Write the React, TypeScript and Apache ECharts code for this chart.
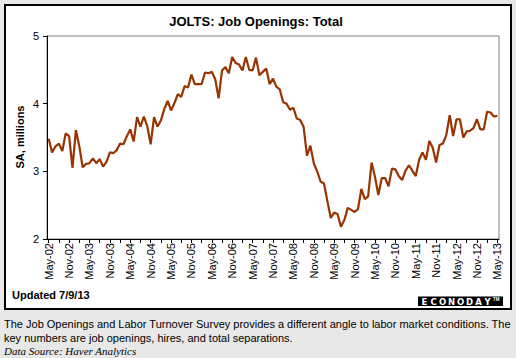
import React, { useEffect, useRef } from "react";
import * as echarts from "echarts";

const monthNames = ["Jan", "Feb", "Mar", "Apr", "May", "Jun", "Jul", "Aug", "Sep", "Oct", "Nov", "Dec"];
const startYear = 2002;
const startMonth = 4; // May
const monthCount = 133; // May-02 .. May-13

const categories: string[] = [];
for (let i = 0; i < monthCount; i++) {
  const m = (startMonth + i) % 12;
  const y = startYear + Math.floor((startMonth + i) / 12);
  categories.push(monthNames[m] + "-" + String(y % 100).padStart(2, "0"));
}

const jobOpenings = [
  3.48, 3.28, 3.37, 3.41, 3.30, 3.56, 3.52, 3.05, 3.61, 3.37,
  3.06, 3.11, 3.12, 3.19, 3.12, 3.18, 3.07, 3.14, 3.28, 3.27,
  3.31, 3.41, 3.40, 3.52, 3.62, 3.44, 3.80, 3.66, 3.81, 3.67,
  3.40, 3.80, 3.66, 3.75, 3.92, 4.04, 3.90, 4.01, 4.14, 4.10,
  4.26, 4.24, 4.43, 4.29, 4.29, 4.29, 4.46, 4.45, 4.47, 4.36,
  4.08, 4.49, 4.54, 4.45, 4.69, 4.60, 4.58, 4.49, 4.69, 4.50,
  4.49, 4.68, 4.42, 4.47, 4.52, 4.29, 4.37, 4.25, 4.21, 4.02,
  4.00, 3.91, 3.94, 3.78, 3.76, 3.66, 3.23, 3.38, 3.12, 3.00,
  2.85, 2.82, 2.56, 2.31, 2.39, 2.37, 2.18, 2.28, 2.46, 2.43,
  2.40, 2.44, 2.74, 2.59, 2.63, 3.13, 2.92, 2.65, 2.90, 2.90,
  2.78, 3.04, 3.03, 2.93, 2.87, 3.01, 3.09, 3.01, 2.93, 3.17,
  3.28, 3.17, 3.45, 3.35, 3.13, 3.39, 3.41, 3.54, 3.83, 3.52,
  3.77, 3.77, 3.50, 3.59, 3.60, 3.64, 3.77, 3.62, 3.62, 3.88,
  3.87, 3.81, 3.82,
];

const yMin = 2;
const yMax = 5;
const yInterval = 1;

const titleText = "JOLTS: Job Openings: Total";
const yAxisName = "SA, millions";
const updatedText = "Updated 7/9/13";
const logoLetters = ["E", "C", "O", "N", "O", "D", "A", "Y"];
const noteLines = [
  "The Job Openings and Labor Turnover Survey provides a different angle to labor market conditions. The",
  "key numbers are job openings, hires, and total separations.",
];
const sourceText = "Data Source: Haver Analytics";

const SANS = "'Liberation Sans', Arial, sans-serif";
const SERIF = "'Liberation Serif', 'Times New Roman', serif";

export default function App() {
  const ref = useRef<HTMLDivElement>(null);

  useEffect(() => {
    if (!ref.current) return;
    const chart = echarts.init(ref.current, undefined, { renderer: "svg" });

    const graphics: any[] = [
      {
        type: "rect",
        z: -10,
        shape: { x: 5, y: 5, width: 506, height: 304 },
        style: { fill: "#ffffff", stroke: "#000000", lineWidth: 2 },
      },
      {
        type: "text",
        x: 256,
        y: 21,
        style: {
          text: titleText,
          fontFamily: SANS,
          fontSize: 13,
          fontWeight: "bold",
          fill: "#000",
          align: "center",
          verticalAlign: "middle",
        },
      },
      {
        type: "text",
        x: 20,
        y: 137,
        rotation: Math.PI / 2,
        style: {
          text: yAxisName,
          fontFamily: SANS,
          fontSize: 11,
          fontWeight: "bold",
          fill: "#000",
          align: "center",
          verticalAlign: "middle",
        },
      },
      {
        type: "text",
        x: 12,
        y: 295,
        style: {
          text: updatedText,
          fontFamily: SANS,
          fontSize: 11,
          fontWeight: "bold",
          fill: "#000",
          align: "left",
          verticalAlign: "middle",
        },
      },
      {
        type: "rect",
        shape: { x: 418, y: 296.5, width: 85, height: 9.5 },
        style: { fill: "#000" },
      },
      ...logoLetters.map((ch, i) => ({
        type: "text",
        x: 424.5 + i * 9,
        y: 301.5,
        style: {
          text: ch,
          fontFamily: "'DejaVu Sans', sans-serif",
          fontSize: 8.5,
          fontWeight: "bold",
          fill: "#fff",
          align: "center",
          verticalAlign: "middle",
        },
      })),
      {
        type: "text",
        x: 493,
        y: 299.5,
        style: {
          text: "TM",
          fontFamily: SANS,
          fontSize: 4.5,
          fontWeight: "bold",
          fill: "#fff",
          align: "left",
          verticalAlign: "middle",
        },
      },
      ...noteLines.map((t, i) => ({
        type: "text",
        x: 4,
        y: 324 + i * 14,
        style: {
          text: t,
          fontFamily: SANS,
          fontSize: 11,
          fill: "#000",
          align: "left",
          verticalAlign: "middle",
        },
      })),
      {
        type: "text",
        x: 4,
        y: 351,
        style: {
          text: sourceText,
          fontFamily: SERIF,
          fontSize: 11,
          fontStyle: "italic",
          fill: "#000",
          align: "left",
          verticalAlign: "middle",
        },
      },
    ];

    chart.setOption({
      animation: false,
      backgroundColor: "#e8e8e8",
      grid: {
        left: 47,
        top: 36,
        right: 17,
        bottom: 119,
        show: true,
        borderColor: "#808080",
        borderWidth: 1,
        backgroundColor: "#ffffff",
        containLabel: false,
      },
      xAxis: {
        type: "category",
        data: categories,
        boundaryGap: true,
        axisLine: { show: true, lineStyle: { color: "#000", width: 1 } },
        axisTick: {
          show: true,
          alignWithLabel: true,
          interval: 2,
          length: 4,
          lineStyle: { color: "#000", width: 1 },
        },
        axisLabel: {
          interval: 5,
          rotate: 90,
          margin: 4,
          fontSize: 11,
          fontFamily: SANS,
          color: "#000",
        },
        splitLine: { show: false },
      },
      yAxis: {
        type: "value",
        min: yMin,
        max: yMax,
        interval: yInterval,
        axisLine: { show: true, lineStyle: { color: "#000", width: 1 } },
        axisTick: { show: true, length: 4, lineStyle: { color: "#000", width: 1 } },
        axisLabel: {
          margin: 8,
          fontSize: 11,
          fontFamily: SANS,
          color: "#000",
        },
        splitLine: { show: false },
      },
      series: [
        {
          type: "line",
          data: jobOpenings,
          symbol: "none",
          lineStyle: { color: "#993300", width: 2.2 },
        },
      ],
      graphic: graphics,
    });

    return () => chart.dispose();
  }, []);

  return (
    <div
      ref={ref}
      style={{ position: "fixed", left: 0, top: 0, width: 516, height: 358 }}
    />
  );
}
